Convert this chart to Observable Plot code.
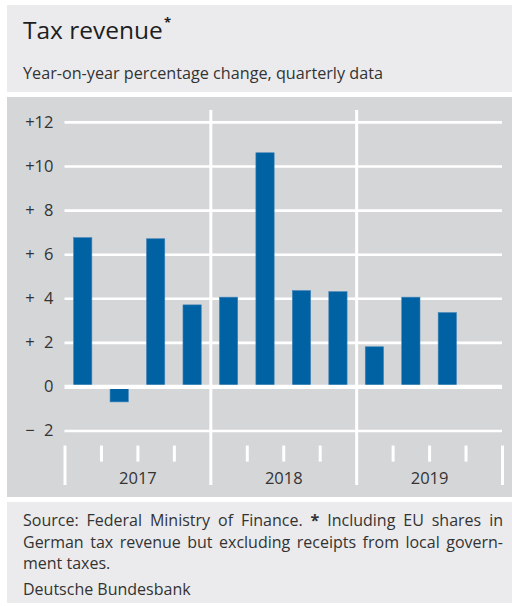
<!DOCTYPE html>
<html>
<head>
<meta charset="utf-8">
<script src="https://cdn.jsdelivr.net/npm/d3@7"></script>
<script src="https://cdn.jsdelivr.net/npm/@observablehq/plot@0.6"></script>
<style>
  html, body { margin: 0; padding: 0; background: #ffffff; }
  body { width: 512px; height: 606px; position: relative; overflow: hidden; font-family: "Open Sans", sans-serif; color: #2b2b2b; }
  .panel { position: absolute; left: 7px; width: 505px; }
  #head { top: 5px; height: 87px; background: #ebebed; }
  #chart { top: 97px; height: 400px; background: #d5d6d8; }
  #foot { top: 502px; height: 101px; background: #ebebed; }
  #title { position: absolute; left: 16px; top: 9px; font-size: 24.5px; line-height: 32px; color: #1e1e1e; white-space: nowrap; }
  #title sup { font-size: 13px; font-weight: bold; position: relative; top: 2px; left: 1px; vertical-align: top; line-height: 13px; }
  #subtitle { position: absolute; left: 16px; top: 57px; font-size: 16.2px; line-height: 22px; color: #333; white-space: nowrap; }
  #notes { position: absolute; left: 16px; top: 8px; width: 480px; font-size: 16px; line-height: 21.5px; color: #333; }
  #notes .j { text-align: justify; text-align-last: justify; white-space: nowrap; }
  #notes .src { margin-top: 4px; }
  #chart svg { position: absolute; left: 0; top: 0; }
</style>
</head>
<body>
<div class="panel" id="head">
  <div id="title">Tax revenue<sup>*</sup></div>
  <div id="subtitle">Year-on-year percentage change, quarterly data</div>
</div>
<div class="panel" id="chart"></div>
<div class="panel" id="foot">
  <div id="notes">
    <div class="j">Source: Federal Ministry of Finance. <b>*</b> Including EU shares in</div>
    <div class="j">German tax revenue but excluding receipts from local govern-</div>
    <div>ment taxes.</div>
    <div class="src">Deutsche Bundesbank</div>
  </div>
</div>
<script>
// ---- data ----
const quarters = ["2017 Q1","2017 Q2","2017 Q3","2017 Q4","2018 Q1","2018 Q2","2018 Q3","2018 Q4","2019 Q1","2019 Q2","2019 Q3","2019 Q4"];
const values = [6.75, -0.7, 6.7, 3.7, 4.05, 10.6, 4.35, 4.3, 1.8, 4.05, 3.35, null];
const years = ["2017", "2018", "2019"];
const yTicks = [-2, 0, 2, 4, 6, 8, 10, 12];

const table = quarters.map((q, i) => ({q, i, value: values[i]})).filter(d => d.value != null);
const fmt = t => t === 0 ? "0" : (t > 0 ? "+" : "\u2212") + (Math.abs(t) < 10 ? "\u2007" : "") + Math.abs(t);

const yTop = 12.54, yBot = -4.47;
const tickTop = -2.68, qTickBot = -3.41;
const yearBounds = [4, 8];
const outerBounds = [0, quarters.length];
const quarterBounds = d3.range(1, quarters.length).filter(k => k % 4 !== 0);

const chart = Plot.plot({
  width: 505,
  height: 400,
  marginLeft: 57.5,
  marginRight: 10,
  marginTop: 13,
  marginBottom: 12,
  style: {background: "transparent", fontFamily: "Open Sans, sans-serif", fontSize: "16.5px", color: "#333"},
  x: {type: "linear", domain: [0, quarters.length], axis: null},
  y: {domain: [yBot, yTop], axis: null},
  marks: [
    Plot.ruleY(yTicks.filter(t => t !== 0), {stroke: "white", strokeWidth: 2.6}),
    Plot.ruleX(yearBounds, {stroke: "white", strokeWidth: 3}),
    Plot.ruleX(outerBounds, {y1: tickTop, y2: yBot, stroke: "white", strokeWidth: 3}),
    Plot.ruleX(quarterBounds, {y1: tickTop, y2: qTickBot, stroke: "white", strokeWidth: 3}),
    Plot.rectY(table, {x1: d => d.i, x2: d => d.i + 1, y: "value", insetLeft: 9.1, insetRight: 9.1, fill: "#0062a2", stroke: "#3f82b8", strokeWidth: 0.6}),
    Plot.ruleY([0], {stroke: "white", strokeWidth: 4.2}),
    Plot.text(years, {x: (d, i) => i * 4 + 2, y: -4.15, text: d => d, fontSize: 16.5, fill: "#333"}),
    Plot.axisY(yTicks, {tickSize: 0, tickPadding: 11.5, tickFormat: fmt, fontSize: 16.5, fill: "#333", label: null})
  ]
});
document.getElementById("chart").appendChild(chart);
</script>
</body>
</html>
